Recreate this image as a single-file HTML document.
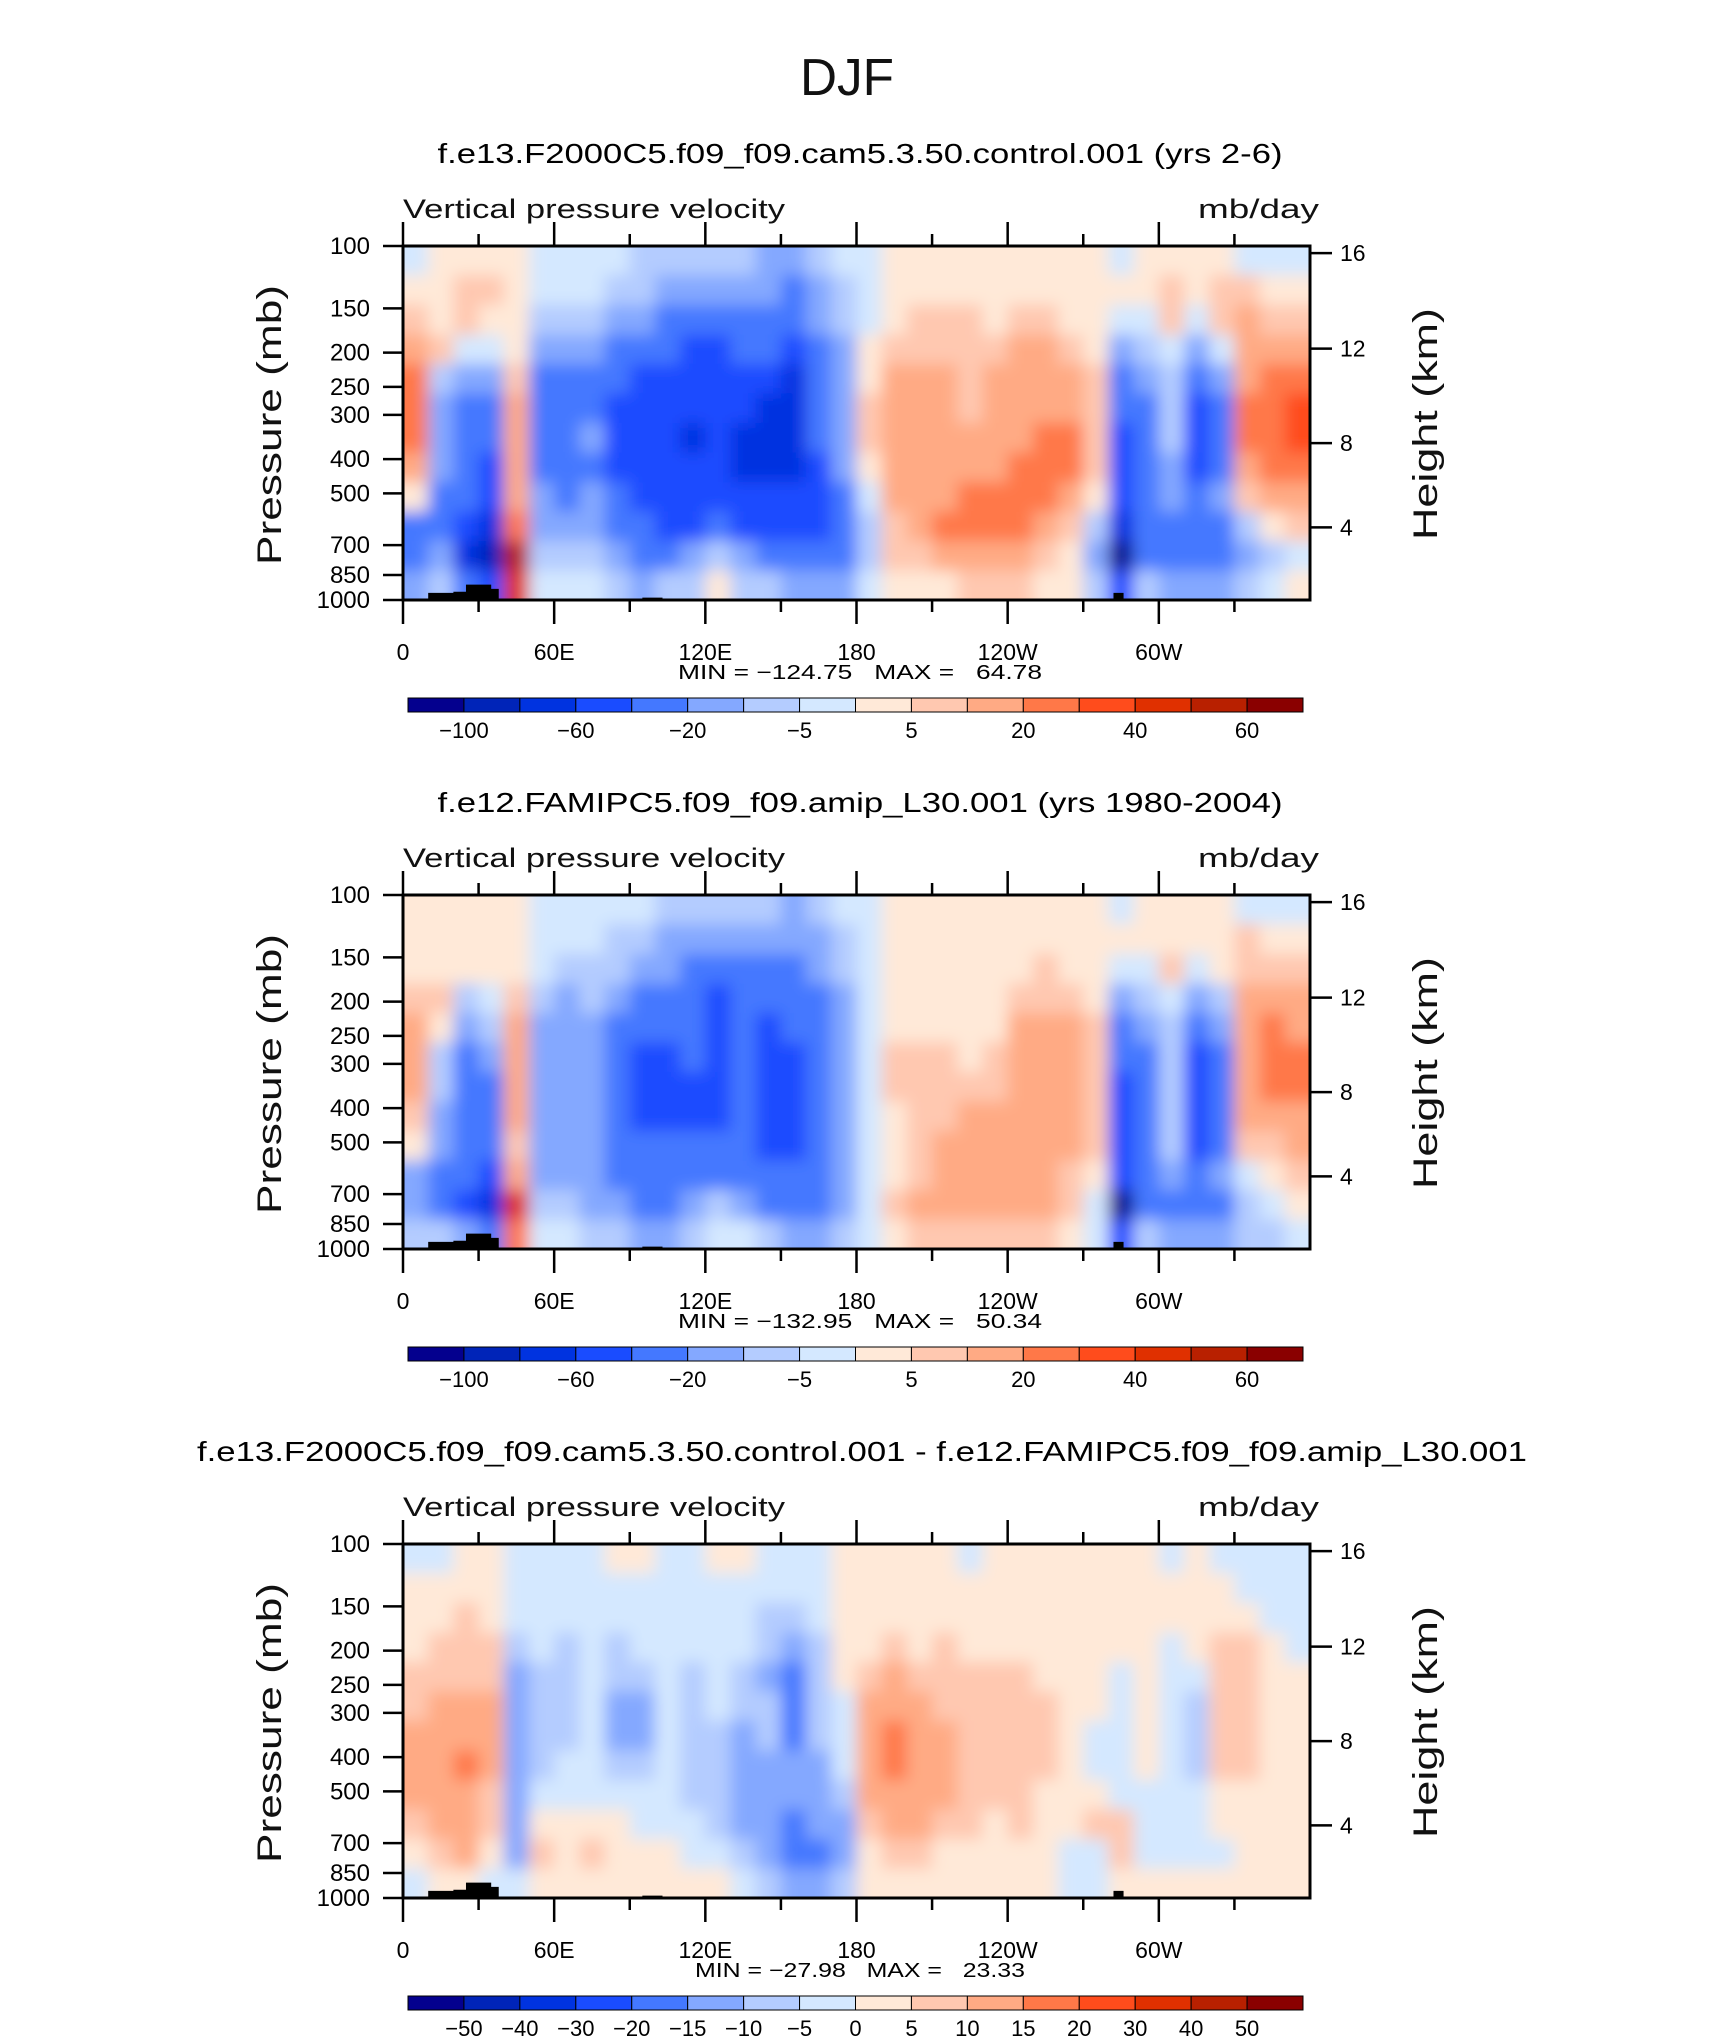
<!DOCTYPE html>
<html><head><meta charset="utf-8"><style>
html,body{margin:0;padding:0;background:#fff;}
svg{display:block;font-family:"Liberation Sans",sans-serif;}
.pre{white-space:pre;}
</style></head><body>
<svg id="fig" width="1710" height="2038" viewBox="0 0 1710 2038" xmlns="http://www.w3.org/2000/svg">
<defs>
<filter id="soft" x="-0.05" y="-0.1" width="1.1" height="1.2"><feGaussianBlur stdDeviation="8"/></filter>
<clipPath id="c0"><rect x="403" y="246" width="907" height="354"/></clipPath>
<clipPath id="c1"><rect x="403" y="895" width="907" height="354"/></clipPath>
<clipPath id="c2"><rect x="403" y="1544" width="907" height="354"/></clipPath>
</defs>
<rect width="1710" height="2038" fill="#fff"/>
<text x="847" y="95" font-size="52" text-anchor="middle" textLength="94" lengthAdjust="spacingAndGlyphs" fill="#111">DJF</text>
</svg>
<script>
// ---- data ----
const lonCenters = [5,15,25,35,45,55,65,75,85,95,105,115,125,135,145,155,165,175,185,195,205,215,225,235,245,255,265,275,285,295,305,315,325,335,345,355];
const presCenters = [110,133,162,196,237,287,348,422,511,619,750,909];
const levelsAbs = [-100,-80,-60,-40,-20,-10,-5,0,5,10,20,30,40,50,60];
const levelsDiff = [-50,-40,-30,-20,-15,-10,-5,0,5,10,15,20,30,40,50];
const cbLabelsAbs = ["","-100","","-60","","-20","","-5","","5","","20","","40","","60",""];
const cbLabelsDiff = ["","-50","-40","-30","-20","-15","-10","-5","0","5","10","15","20","30","40","50",""];
const palette = ["#04008e","#0024b8","#0033e0","#1a4cff","#4478ff","#84a8ff","#b4ccff","#d4e8ff","#ffe9d8","#ffc8b0","#ffaa84","#ff7848","#ff4c1c","#e03000","#b82000","#8a0000"];
const titles = ["f.e13.F2000C5.f09_f09.cam5.3.50.control.001 (yrs 2-6)","f.e12.FAMIPC5.f09_f09.amip_L30.001 (yrs 1980-2004)","f.e13.F2000C5.f09_f09.cam5.3.50.control.001 - f.e12.FAMIPC5.f09_f09.amip_L30.001"];
const minmax = ["MIN = \u2212124.75   MAX =   64.78","MIN = \u2212132.95   MAX =   50.34","MIN = \u221227.98   MAX =   23.33"];
const terrainLon = [10,20,25,35,38,95,103,108,185,282,286,305];
const terrainP   = [955,948,905,930,1000,985,1000,990,1000,955,990,1000];
const pTicks = [100,150,200,250,300,400,500,700,850,1000];
const hTickLabels = ["16","12","8","4"];
const hTickFrac = [0.02,0.29,0.557,0.795];
const lonTicks = [0,60,120,180,240,300];
const lonTickLabels = ["0","60E","120E","180","120W","60W"];
// omega field, control run (each row = one longitude column, top->bottom pressure)
const field1 = [
[-2,2,7,15,25,25,25,15,2,-30,-30,-15],
[2,2,2,7,-7,-15,-15,-15,-30,-30,-15,-7],
[2,7,7,-2,-15,-30,-30,-30,-30,-50,-70,-30],
[2,7,2,-2,-15,-30,-30,-50,-50,-70,-90,-50],
[2,2,2,2,7,15,15,15,15,25,55,45],
[-2,-2,-7,-15,-30,-30,-30,-30,-15,-15,-7,-2],
[-2,-2,-7,-15,-30,-30,-30,-30,-30,-15,-7,-2],
[-2,-2,-7,-15,-30,-30,-15,-30,-15,-15,-7,-2],
[-2,-7,-15,-30,-30,-50,-50,-50,-30,-30,-15,-7],
[-7,-7,-15,-30,-50,-50,-50,-50,-50,-30,-30,-15],
[-7,-15,-30,-30,-50,-50,-50,-50,-50,-50,-30,-7],
[-7,-15,-30,-50,-50,-50,-70,-50,-50,-50,-15,-7],
[-7,-15,-30,-50,-50,-50,-50,-50,-50,-30,-7,2],
[-7,-15,-30,-30,-50,-50,-70,-70,-50,-50,-15,-7],
[-15,-15,-30,-30,-50,-70,-70,-70,-50,-50,-30,-7],
[-15,-30,-30,-50,-70,-70,-70,-70,-50,-50,-30,-15],
[-7,-15,-15,-30,-30,-30,-30,-50,-50,-50,-30,-15],
[-2,-7,-7,-15,-15,-15,-15,-15,-30,-30,-30,-15],
[-2,-2,-2,2,2,7,7,2,-2,-7,-7,-2],
[2,2,2,7,15,15,15,15,15,7,7,2],
[2,2,7,7,15,15,15,15,15,15,7,2],
[2,2,7,7,15,15,15,15,15,25,15,2],
[2,2,7,7,7,7,15,15,25,25,15,7],
[2,2,2,7,15,15,15,15,25,25,15,7],
[2,2,7,15,15,15,15,25,25,25,15,7],
[2,2,7,15,15,15,25,25,25,15,7,2],
[2,2,2,7,15,15,25,25,15,7,2,2],
[2,2,2,2,7,7,7,7,2,-7,-15,-7],
[-2,2,-2,-15,-30,-30,-50,-50,-50,-70,-110,-50],
[2,2,-2,-7,-15,-30,-30,-30,-30,-30,-30,-7],
[2,7,7,-2,-7,-7,-7,-15,-15,-30,-30,-15],
[2,2,-2,-15,-30,-50,-50,-50,-30,-30,-30,-15],
[2,7,7,-2,-15,-30,-30,-30,-15,-30,-30,-15],
[-2,7,15,15,15,25,25,15,7,-7,-15,-7],
[-2,2,7,15,25,25,25,25,15,2,-7,-2],
[-2,2,7,15,25,35,35,25,15,7,-2,2]];
// omega field, AMIP run
const field2 = [
[2,2,2,7,15,15,15,7,2,-15,-15,-7],
[2,2,2,7,2,-7,-7,-15,-15,-30,-30,-7],
[2,2,2,-7,-15,-30,-30,-30,-30,-30,-50,-15],
[2,2,2,-2,-7,-15,-30,-30,-30,-50,-70,-30],
[2,2,2,7,15,15,15,15,7,15,45,25],
[-2,-2,-2,-7,-15,-15,-15,-15,-15,-15,-7,-2],
[-2,-2,-7,-15,-15,-15,-15,-15,-15,-15,-7,-2],
[-2,-2,-7,-7,-15,-15,-15,-15,-15,-15,-15,-7],
[-2,-7,-7,-15,-30,-30,-30,-30,-30,-30,-15,-7],
[-2,-7,-15,-30,-30,-50,-50,-50,-30,-30,-30,-15],
[-7,-15,-15,-30,-30,-50,-50,-50,-30,-30,-30,-15],
[-7,-15,-30,-30,-30,-30,-50,-50,-30,-30,-15,-7],
[-7,-15,-30,-50,-50,-50,-50,-50,-30,-30,-7,-2],
[-7,-15,-30,-30,-30,-30,-30,-30,-30,-30,-15,-2],
[-7,-15,-30,-30,-50,-50,-50,-50,-50,-30,-30,-7],
[-15,-15,-30,-30,-30,-50,-50,-50,-50,-30,-30,-15],
[-7,-15,-15,-30,-30,-30,-30,-30,-30,-30,-30,-15],
[-2,-7,-7,-15,-15,-15,-15,-15,-15,-15,-15,-7],
[-2,-2,-2,-2,-2,-2,-2,-2,-2,-2,-2,-2],
[2,2,2,2,2,7,7,2,2,2,7,2],
[2,2,2,2,2,7,7,7,7,7,15,7],
[2,2,2,2,2,7,7,7,15,15,15,7],
[2,2,2,2,2,2,7,15,15,15,15,7],
[2,2,2,2,2,7,7,15,15,15,15,7],
[2,2,2,7,15,15,15,15,15,15,15,7],
[2,2,7,7,15,15,15,15,15,15,15,7],
[2,2,2,7,15,15,15,15,15,7,7,2],
[2,2,2,2,7,7,7,7,7,2,-2,-2],
[-2,2,-2,-15,-30,-30,-50,-50,-50,-50,-110,-50],
[2,2,-2,-7,-15,-30,-30,-30,-30,-30,-30,-7],
[2,2,7,-2,-7,-7,-7,-7,-7,-15,-30,-15],
[2,2,-2,-15,-30,-50,-50,-50,-50,-30,-30,-15],
[2,2,2,-7,-15,-30,-30,-30,-30,-15,-30,-15],
[-2,7,7,15,15,15,15,15,7,-2,-7,-7],
[-2,2,7,15,25,25,25,15,7,2,-2,-7],
[-2,2,7,15,15,25,25,15,15,7,2,-2]];
// difference field
const field3 = [
[-2,2,2,2,7,7,12,12,12,7,2,-2],
[-2,2,2,7,7,12,12,12,12,12,7,2],
[2,2,7,7,7,12,12,17,12,12,12,2],
[2,2,2,7,7,12,12,12,7,7,2,-2],
[-2,-2,-2,-7,-12,-12,-12,-12,-12,-12,-12,-2],
[-2,-2,-2,-2,-7,-7,-7,-7,-2,2,7,2],
[-2,-2,-2,-7,-7,-7,-7,-2,-2,2,2,2],
[-2,-2,-2,-2,-2,-2,-2,-2,-2,2,7,2],
[2,-2,-2,-7,-7,-12,-12,-7,-2,2,2,2],
[2,-2,-2,-2,-7,-12,-12,-7,-2,-2,2,2],
[-2,-2,-2,-2,-2,-2,-2,-2,-2,-2,2,2],
[-2,-2,-2,-2,-7,-7,-7,-7,-7,-2,-2,2],
[2,-2,-2,-2,-2,-2,-7,-7,-7,-7,-2,2],
[2,-2,-2,-2,-7,-7,-12,-12,-12,-12,-7,-2],
[-2,-2,-7,-7,-12,-7,-7,-12,-12,-12,-12,-7],
[-2,-2,-7,-12,-17,-17,-17,-12,-12,-17,-17,-12],
[-2,-2,-2,-7,-7,-7,-7,-12,-12,-12,-17,-12],
[2,2,2,2,2,-2,-2,-2,-7,-12,-12,-7],
[2,2,2,2,7,12,12,12,12,7,2,2],
[2,2,2,7,12,12,17,17,12,12,7,2],
[2,2,2,2,7,12,12,12,12,12,7,2],
[2,2,2,7,7,7,12,12,12,7,2,2],
[-2,2,2,2,7,7,7,7,7,7,2,2],
[2,2,2,2,7,7,7,7,7,2,2,2],
[2,2,2,2,7,7,7,7,7,7,2,2],
[2,2,2,2,2,7,7,7,2,2,2,2],
[2,2,2,2,2,2,2,2,2,2,-2,-2],
[2,2,2,2,2,2,-2,-2,2,7,-2,-2],
[2,2,2,2,-2,-2,-2,-2,-2,7,7,2],
[2,2,2,2,2,2,2,2,-2,-2,-2,2],
[-2,2,2,-2,-2,-2,-2,-2,-2,-2,-2,2],
[2,2,2,2,-2,-7,-7,-7,-2,-2,-2,2],
[-2,2,2,7,7,7,7,7,2,2,-2,2],
[-2,-2,2,7,7,7,7,7,2,2,2,2],
[-2,-2,-2,2,2,2,2,2,2,2,2,2],
[-2,-2,-2,-2,2,2,2,2,2,2,2,2]];

// ---- drawing ----
const NS = "http://www.w3.org/2000/svg";
const svg = document.getElementById("fig");
const X0 = 403, X1 = 1310, H = 354, tops = [246,895,1544];
const PAD = 30;
function mk(tag, attrs, parent){ const e=document.createElementNS(NS,tag); for(const k in attrs) e.setAttribute(k,attrs[k]); (parent||svg).appendChild(e); return e; }
function xOf(lon){ return X0 + (X1-X0)*lon/360; }
function yOf(T,p){ return T + H*Math.log10(p/100); }
function colorOf(v, lev){ let i=0; while(i<lev.length && v>=lev[i]) i++; return palette[i]; }
function pEdges(){ const e=[100]; for(let i=0;i<presCenters.length-1;i++) e.push(Math.sqrt(presCenters[i]*presCenters[i+1])); e.push(1000); return e; }
const fields=[field1,field2,field3];
const levs=[levelsAbs,levelsAbs,levelsDiff];
const cbl=[cbLabelsAbs,cbLabelsAbs,cbLabelsDiff];

for(let k=0;k<3;k++){
  const T=tops[k];
  const panel=mk("g",{});
  
  
  const tt=mk("text",{x:(k==2?862:860),y:T-83,"font-size":28,"text-anchor":"middle",textLength:(k==2?1330:845),lengthAdjust:"spacingAndGlyphs",fill:"#000"},panel);
  tt.textContent=titles[k];
  
  
  const vl=mk("text",{x:403,y:T-28,"font-size":27,textLength:382,lengthAdjust:"spacingAndGlyphs",fill:"#111"},panel);
  vl.textContent="Vertical pressure velocity";
  
  
  const ul=mk("text",{x:1319,y:T-28,"font-size":27,"text-anchor":"end",textLength:121,lengthAdjust:"spacingAndGlyphs",fill:"#111"},panel);
  ul.textContent="mb/day";
  
  

  const g=mk("g",{"clip-path":"url(#c"+k+")"},panel);
  
  
  const inner=mk("g",{filter:"url(#soft)"},g);
  const pe=pEdges();
  const f=fields[k];
  const nc=lonCenters.length, nr=presCenters.length;
  for(let j=0;j<nc;j++){
    for(let i=0;i<nr;i++){
      let xa=xOf(lonCenters[j]-5), xb=xOf(lonCenters[j]+5);
      let ya=yOf(T,pe[i]), yb=yOf(T,pe[i+1]);
      if(j==0) xa-=PAD; if(j==nc-1) xb+=PAD;
      if(i==0) ya-=PAD; if(i==nr-1) yb+=PAD;
      const r=mk("rect",{x:xa,y:ya,width:xb-xa+0.8,height:yb-ya+0.8,fill:colorOf(f[j][i],levs[k])},inner);
      
      
    }
  }
  let d="M"+xOf(terrainLon[0])+","+yOf(T,1000);
  for(let n=0;n<terrainLon.length-1;n++){
    const xa=xOf(terrainLon[n]), xb=xOf(terrainLon[n+1]);
    d+=" L"+xa+","+yOf(T,terrainP[n])+" L"+xb+","+yOf(T,terrainP[n]);
  }
  d+=" L"+xOf(terrainLon[terrainLon.length-1])+","+yOf(T,1000)+" Z";
  const tr=mk("path",{d:d,fill:"#000"},g);
  
  

  const fr=mk("rect",{x:X0,y:T,width:X1-X0,height:H,fill:"none",stroke:"#000","stroke-width":3},panel);
  
  

  for(let lon=0;lon<360;lon+=30){
    const major=(lon%60==0); const x=xOf(lon);
    const t1=mk("line",{x1:x,y1:T,x2:x,y2:T-(major?24:12),stroke:"#000","stroke-width":2.5},panel);
    
    
    const t2=mk("line",{x1:x,y1:T+H,x2:x,y2:T+H+(major?24:12),stroke:"#000","stroke-width":2.5},panel);
    
    
  }
  for(let n=0;n<lonTicks.length;n++){
    const lt=mk("text",{x:xOf(lonTicks[n]),y:T+414,"font-size":23,"text-anchor":"middle",fill:"#000"},panel);
    lt.textContent=lonTickLabels[n];
    
    
  }
  const mm=mk("text",{x:860,y:T+433,"font-size":20,"text-anchor":"middle",textLength:(k==2?330:364),lengthAdjust:"spacingAndGlyphs",fill:"#000","class":"pre"},panel);
  mm.textContent=minmax[k];
  
  

  for(const p of pTicks){
    const y=yOf(T,p);
    const pl=mk("line",{x1:X0-20,y1:y,x2:X0,y2:y,stroke:"#000","stroke-width":2.5},panel);
    
    
    const pt=mk("text",{x:370,y:y+8,"font-size":24,"text-anchor":"end",fill:"#000"},panel);
    pt.textContent=String(p);
    
    
  }
  const yt=mk("text",{x:0,y:0,"font-size":34,"text-anchor":"middle",textLength:280,lengthAdjust:"spacingAndGlyphs",fill:"#111",transform:"translate(281,"+(T+179)+") rotate(-90)"},panel);
  yt.textContent="Pressure (mb)";
  
  
  for(let n=0;n<hTickLabels.length;n++){
    const y=T+H*hTickFrac[n];
    const hl=mk("line",{x1:X1,y1:y,x2:X1+22,y2:y,stroke:"#000","stroke-width":2.5},panel);
    
    
    const ht=mk("text",{x:X1+30,y:y+8,"font-size":23,fill:"#000"},panel);
    ht.textContent=hTickLabels[n];
    
    
  }
  const rt=mk("text",{x:0,y:0,"font-size":34,"text-anchor":"middle",textLength:232,lengthAdjust:"spacingAndGlyphs",fill:"#111",transform:"translate(1437,"+(T+178)+") rotate(-90)"},panel);
  rt.textContent="Height (km)";
  
  

  const cb=mk("g",{},panel);
  
  
  const cx0=408, cx1=1303, cy=T+452, ch=14, bw=(cx1-cx0)/palette.length;
  for(let n=0;n<palette.length;n++){
    const b=mk("rect",{x:cx0+n*bw,y:cy,width:bw,height:ch,fill:palette[n],stroke:"#000","stroke-width":1},cb);
    
    
  }
  const labs=cbl[k];
  for(let n=0;n<labs.length;n++){
    if(!labs[n]) continue;
    const l=mk("text",{x:cx0+n*bw,y:T+492,"font-size":22,"text-anchor":"middle",fill:"#000"},cb);
    l.textContent=labs[n].replace("-","\u2212");
    
    
  }
}
</script>
</body></html>
